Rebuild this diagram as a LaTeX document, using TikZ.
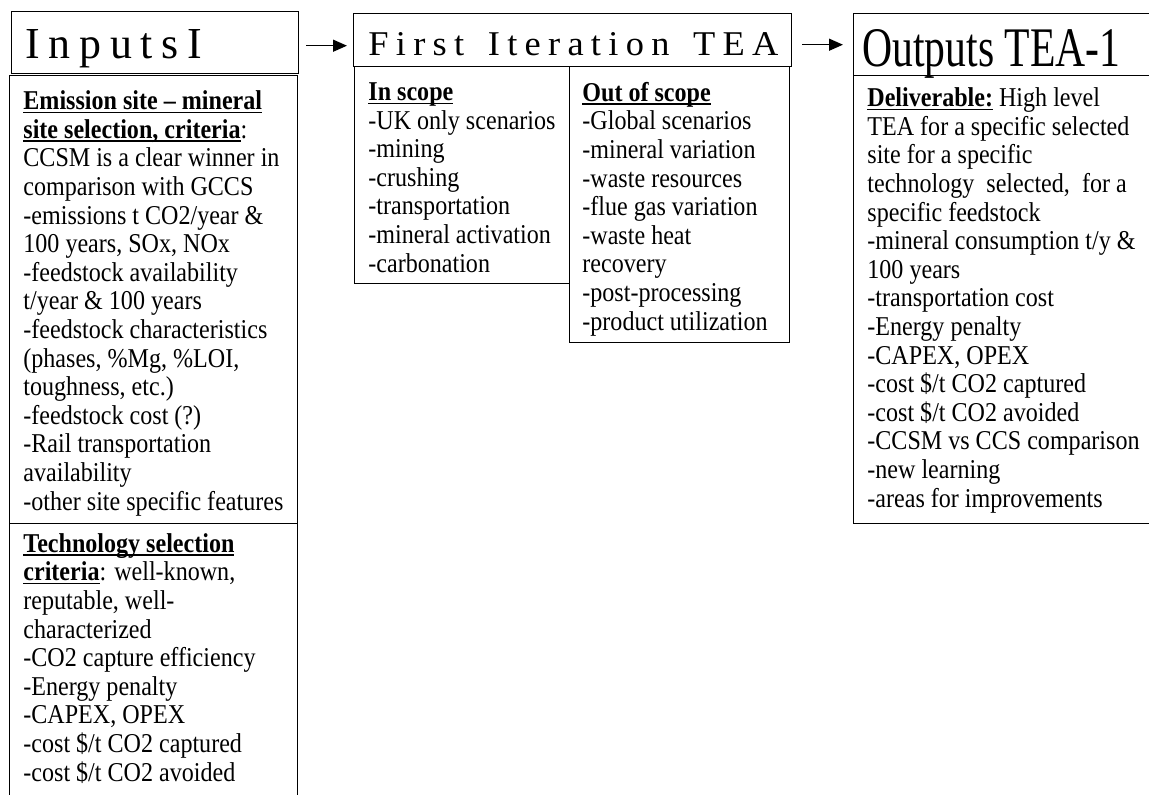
\documentclass[tikz,border=0pt]{standalone}
\usepackage{fontspec}
% a slightly condensed Times-metric serif for the body text
\setmainfont{Liberation Serif}[FakeStretch=0.885]
% the same serif at natural width for the headings
\newfontfamily\headfont{Liberation Serif}
\usepackage{graphicx}
\usetikzlibrary{arrows.meta,calc}

% letter spacing used in the spaced-out headings
\newcommand\lsp{\hspace{0.2em}}
% bold, underlined heading words
\newsavebox\hdbox
\newcommand\hd[1]{\sbox\hdbox{\textbf{#1}}\leavevmode\rlap{\rule[-1.7pt]{\wd\hdbox}{0.6pt}}\usebox\hdbox}

\begin{document}
\begin{tikzpicture}[x=0.5pt,y=-0.5pt,
  frame/.style={draw=black,line width=0.7pt,anchor=north west,inner sep=0pt},
  % text blocks are placed by the baseline of their last line
  body/.style={anchor=base west,inner sep=0pt,align=left,
    font=\fontsize{13.6pt}{14.3pt}\selectfont},
  head/.style={anchor=base west,inner sep=0pt,font=\headfont},
  arr/.style={line width=0.7pt,-{Triangle[length=7pt,width=6pt]}}]
\clip (0,0) rectangle (1149,794);
\fill[white] (0,0) rectangle (1149,794);

% ---- Inputs column ----
\node[frame,minimum width=143.5pt,minimum height=31pt] (inT) at (11,11) {};
\node[head] (inTt) at (25,58) {\resizebox{88.5pt}{14.5pt}{I\lsp n\lsp p\lsp u\lsp t\lsp s\lsp I}};
\node[frame,minimum width=144pt,minimum height=224pt] (inE) at (9,75) {};
\node[body] (inEt) at (23,510) {%
\hd{Emission site – mineral}\\
\hd{site selection, criteria}:\\
CCSM is a clear winner in\\
comparison with GCCS\\
-emissions t CO2/year \&\\
100 years, SOx, NOx\\
-feedstock availability\\
t/year \& 100 years\\
-feedstock characteristics\\
(phases, \%Mg, \%LOI,\\
toughness, etc.)\\
-feedstock cost (?)\\
-Rail transportation\\
availability\\
-other site specific features};
\node[frame,minimum width=144pt,minimum height=150pt] (inTech) at (9,523) {};
\node[body] (inTecht) at (23,781) {%
\hd{Technology selection}\\
\hd{criteria}: well-known,\\
reputable, well-\\
characterized\\
-CO2 capture efficiency\\
-Energy penalty\\
-CAPEX, OPEX\\
-cost \$/t CO2 captured\\
-cost \$/t CO2 avoided};

% ---- First iteration column ----
\node[frame,minimum width=219pt,minimum height=26.5pt] (fiT) at (353,13) {};
\node[head] (fiTt) at (368,55) {\resizebox{205pt}{11.5pt}{F\lsp i\lsp r\lsp s\lsp t\lsp\ \lsp I\lsp t\lsp e\lsp r\lsp a\lsp t\lsp i\lsp o\lsp n\lsp\ \lsp T\lsp E\lsp A}};
\node[frame,minimum width=107.5pt,minimum height=108.5pt] (inS) at (354,66) {};
\node[body] (inSt) at (368,272) {%
\hd{In scope}\\
-UK only scenarios\\
-mining\\
-crushing\\
-transportation\\
-mineral activation\\
-carbonation};
\node[frame,minimum width=110pt,minimum height=138pt] (outS) at (569,66) {};
\node[body] (outSt) at (582,330) {%
\hd{Out of scope}\\
-Global scenarios\\
-mineral variation\\
-waste resources\\
-flue gas variation\\
-waste heat\\
recovery\\
-post-processing\\
-product utilization};

% ---- Outputs column ----
\node[frame,minimum width=160pt,minimum height=31pt] (ouT) at (853,13) {};
\node[head] (ouTt) at (862,66) {\resizebox{129pt}{18.5pt}{Outputs TEA-1}};
\node[frame,minimum width=160pt,minimum height=224pt] (ouB) at (853,75) {};
\node[body] (ouBt) at (867,507) {%
\hd{Deliverable:} High level\\
TEA for a specific selected\\
site for a specific\\
technology~ selected,~ for a\\
specific feedstock\\
-mineral consumption t/y \&\\
100 years\\
-transportation cost\\
-Energy penalty\\
-CAPEX, OPEX\\
-cost \$/t CO2 captured\\
-cost \$/t CO2 avoided\\
-CCSM vs CCS comparison\\
-new learning\\
-areas for improvements};

% ---- flow arrows ----
\draw[arr] ($(inT.east)+(7,3)$) -- ($(inT.east -| fiT.west)+(-6,3)$);
\draw[arr] ($(fiT.east)+(10,4.5)$) -- ($(fiT.east -| ouT.west)+(-10,4.5)$);
\end{tikzpicture}
\end{document}
